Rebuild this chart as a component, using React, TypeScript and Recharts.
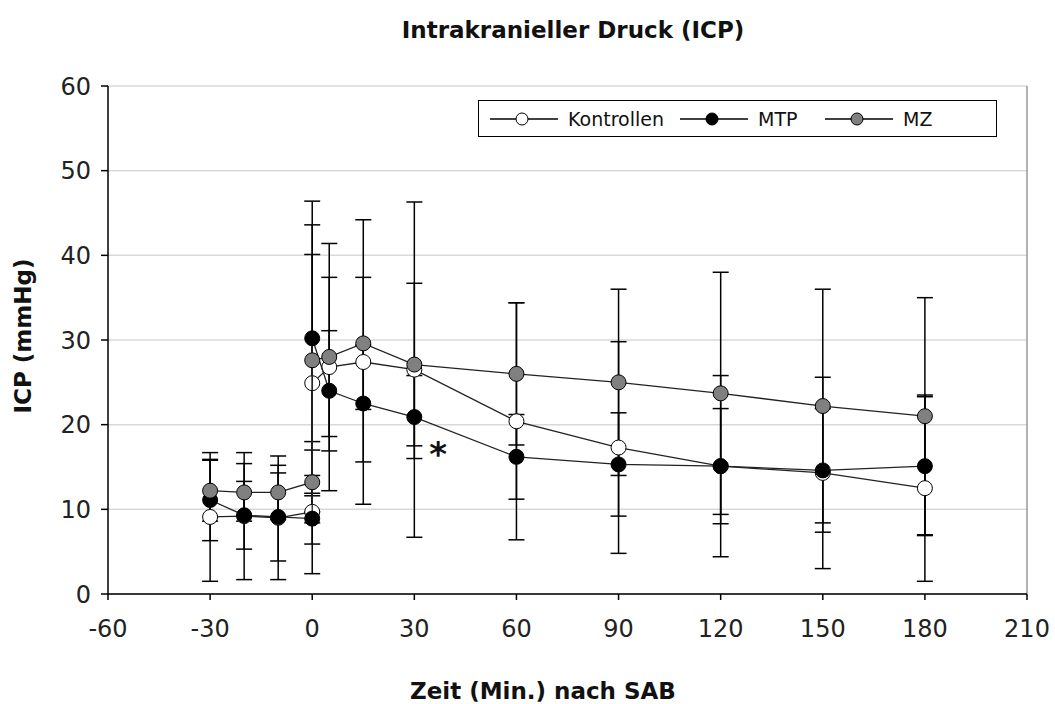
import React from "react";
import {
    ScatterChart,
    Scatter,
    XAxis,
    YAxis,
    CartesianGrid,
    ErrorBar,
    ReferenceLine,
    ReferenceDot,
} from "recharts";

// time points (min after SAB); 0 appears twice: before and after SAB
const times = [-30, -20, -10, 0, 0, 5, 15, 30, 60, 90, 120, 150, 180];

const kontrollenMean = [9.1, 9.2, 9.0, 9.7, 24.9, 26.8, 27.4, 26.5, 20.4, 17.3, 15.1, 14.3, 12.5];
const kontrollenSd = [7.6, 7.5, 7.3, 7.3, 15.2, 14.6, 16.8, 19.8, 14.0, 12.5, 10.7, 11.3, 11.0];

const mtpMean = [11.1, 9.3, 9.1, 8.9, 30.2, 24.0, 22.5, 20.9, 16.2, 15.3, 15.1, 14.6, 15.1];
const mtpSd = [4.8, 4.0, 5.2, 3.0, 16.2, 7.1, 6.9, 4.9, 5.0, 6.1, 6.8, 7.3, 8.2];

const mzMean = [12.2, 12.0, 12.0, 13.2, 27.6, 28.0, 29.6, 27.1, 26.0, 25.0, 23.7, 22.2, 21.0];
const mzSd = [3.6, 3.4, 3.2, 4.8, 16.0, 9.4, 7.8, 9.6, 8.4, 11.0, 14.3, 13.8, 14.0];

const xTicks = [-60, -30, 0, 30, 60, 90, 120, 150, 180, 210];
const yTicks = [0, 10, 20, 30, 40, 50, 60];

// significance marker
const starPoint = { x: 37, y: 16.5, text: "*" };

const build = (mean: number[], sd: number[]) =>
    times.map((t, i) => ({ x: t, y: mean[i], err: sd[i] }));

const series = [
    { name: "Kontrollen", data: build(kontrollenMean, kontrollenSd), fill: "#ffffff" },
    { name: "MTP", data: build(mtpMean, mtpSd), fill: "#000000" },
    { name: "MZ", data: build(mzMean, mzSd), fill: "#808080" },
];

const FONT = "'DejaVu Sans', Verdana, sans-serif";

const makeDot = (fill: string) => (props: any) => (
    <circle cx={props.cx} cy={props.cy} r={7.5} fill={fill} stroke="#000" strokeWidth={1} />
);

const LegendBox = () => (
    <div
        style={{
            position: "absolute",
            left: 478,
            top: 100,
            width: 517,
            height: 35,
            border: "1.5px solid #000",
            background: "#fff",
            fontFamily: FONT,
            fontSize: 19,
        }}
    >
        {series.map((s, i) => (
            <div
                key={s.name}
                style={{
                    position: "absolute",
                    left: [11, 201, 346][i],
                    top: 0,
                    height: 35,
                    display: "flex",
                    alignItems: "center",
                }}
            >
                <svg width={68} height={20}>
                    <line x1={0} y1={10} x2={68} y2={10} stroke="#000" strokeWidth={1.3} />
                    <circle cx={32} cy={10} r={6} fill={s.fill} stroke="#000" strokeWidth={1} />
                </svg>
                <span style={{ marginLeft: 10, color: "#111" }}>{s.name}</span>
            </div>
        ))}
    </div>
);

const App = () => {
    return (
        <div style={{ position: "absolute", left: 0, top: 0, width: 1055, height: 704, background: "#fff" }}>
            <div
                style={{
                    position: "absolute",
                    left: 0,
                    width: 1146,
                    top: 17,
                    textAlign: "center",
                    fontFamily: FONT,
                    fontWeight: "bold",
                    fontSize: 23,
                    color: "#111",
                }}
            >
                Intrakranieller Druck (ICP)
            </div>

            <ScatterChart
                width={1055}
                height={704}
                margin={{ top: 86, right: 28, bottom: 70, left: 48 }}
                style={{ fontFamily: FONT }}
            >
                <CartesianGrid vertical={false} stroke="#d9d9d9" strokeWidth={1.5} />
                <XAxis
                    type="number"
                    dataKey="x"
                    domain={[-60, 210]}
                    ticks={xTicks}
                    allowDataOverflow
                    height={40}
                    tickSize={6}
                    tickMargin={20}
                    stroke="#000"
                    strokeWidth={1.5}
                    tick={{ fill: "#222", fontSize: 24 }}
                />
                <YAxis
                    type="number"
                    dataKey="y"
                    domain={[0, 60]}
                    ticks={yTicks}
                    allowDataOverflow
                    width={60}
                    tickSize={7}
                    tickMargin={10}
                    stroke="#000"
                    strokeWidth={1.5}
                    tick={{ fill: "#222", fontSize: 24 }}
                />
                <ReferenceLine x={210} stroke="#999" strokeWidth={1.5} />
                {series.map((s) => (
                    <Scatter
                        key={s.name}
                        name={s.name}
                        data={s.data}
                        line={{ stroke: "#222", strokeWidth: 1.3 }}
                        lineType="joint"
                        shape={makeDot(s.fill)}
                        isAnimationActive={false}
                    >
                        <ErrorBar dataKey="err" direction="y" width={8} stroke="#000" strokeWidth={1.5} />
                    </Scatter>
                ))}
                <ReferenceDot
                    x={starPoint.x}
                    y={starPoint.y}
                    r={0}
                    fill="none"
                    stroke="none"
                    label={{ value: starPoint.text, position: "center", fontSize: 34, fontWeight: "bold", fill: "#111" }}
                />
            </ScatterChart>

            <LegendBox />

            <div
                style={{
                    position: "absolute",
                    left: 410,
                    top: 678,
                    fontFamily: FONT,
                    fontWeight: "bold",
                    fontSize: 23,
                    color: "#111",
                    whiteSpace: "nowrap",
                }}
            >
                Zeit (Min.) nach SAB
            </div>
            <div
                style={{
                    position: "absolute",
                    left: 23,
                    top: 336,
                    transform: "translate(-50%, -50%) rotate(-90deg)",
                    fontFamily: FONT,
                    fontWeight: "bold",
                    fontSize: 23,
                    color: "#111",
                    whiteSpace: "nowrap",
                }}
            >
                ICP (mmHg)
            </div>
        </div>
    );
};

export default App;
